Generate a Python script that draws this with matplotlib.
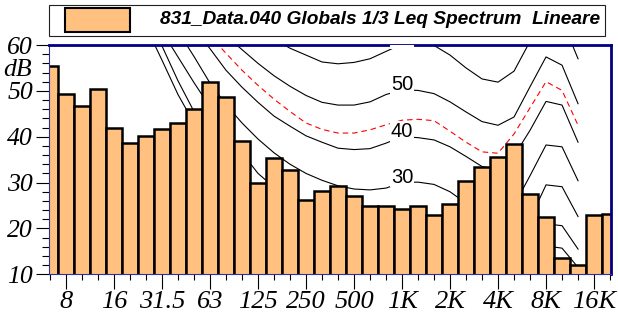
import numpy as np
import matplotlib
matplotlib.use('Agg')
import matplotlib.pyplot as plt
from matplotlib.patches import Rectangle

# 1/3 octave bands and measured Leq (dB)
bands = ['6.3', '8', '10', '12.5', '16', '20', '25', '31.5', '40', '50', '63', '80',
         '100', '125', '160', '200', '250', '315', '400', '500', '630', '800', '1K', '1.25K',
         '1.6K', '2K', '2.5K', '3.15K', '4K', '5K', '6.3K', '8K', '10K', '12.5K', '16K', '20K']
levels = [55.4, 49.3, 46.7, 50.3, 42.0, 38.6, 40.2, 41.6, 42.9, 46.0, 51.9, 48.6,
          39.1, 30.0, 35.3, 32.7, 26.2, 28.2, 29.3, 27.1, 24.9, 24.9, 24.2, 24.8,
          22.9, 25.3, 30.4, 33.5, 35.5, 38.5, 27.5, 22.6, 13.5, 12.0, 22.9, 23.1]
tick_bands = ['8', '16', '31.5', '63', '125', '250', '500', '1K', '2K', '4K', '8K', '16K']

# equal loudness contours, 20 Hz .. 12.5 kHz
contour_bands = bands[5:34]
phon_0 = [72, 64, 56.7, 49.2, 43, 37.5, 32.5, 28, 24, 20.5, 17.5, 14.5, 12, 10, 8, 6.5, 5,
          0, 1, 1, -2, -5, -7, -7, -4, 6, 16.2, 15.7, 11.5]
phon_10 = [75, 67.5, 59.8, 52.2, 45.5, 39.5, 34.5, 30.5, 27, 24, 21.5, 19, 17, 15, 13.5, 12.3, 11.2,
           10, 11, 11.3, 9, 6, 4, 3.5, 6, 13, 21, 20.6, 15.5]
phon_20 = [77, 70, 63, 57.4, 51.8, 46.5, 41.5, 36.5, 32, 29, 26.5, 24.5, 23, 22, 21, 20.5, 20.2,
           20, 21, 21.3, 19, 16, 13.5, 13, 15.5, 22, 29.5, 29.1, 22.6]
phon_30 = [79.5, 74, 68.5, 63, 57.5, 51.7, 47, 43, 39.5, 36.5, 34, 32, 30.5, 29.3, 28.6, 28.4, 28.8,
           30, 30.1, 29.6, 28, 25.5, 23.5, 22.5, 25, 31.5, 38.2, 37.8, 30.4]
phon_40 = [81, 76.5, 72, 67.5, 63.5, 59.2, 54.5, 50.8, 47.5, 44.5, 42.3, 40.2, 38.8, 37.5, 37.2, 37.4, 38.6,
           40, 39.8, 39.3, 37.8, 35.7, 33.5, 32.8, 35.8, 41.4, 47.7, 46.9, 38.8]
phon_50 = [84, 80, 76, 72, 68.5, 65, 62, 59, 56, 53.3, 51, 49, 47.5, 46.9, 46.9, 47.6, 49.2,
           50.2, 50.1, 49.4, 47.6, 45.4, 43.3, 42.5, 44.3, 50.9, 57.4, 55.6, 47.2]
phon_60 = [90, 87, 84, 80.5, 77, 73.5, 70, 67, 64, 61.3, 59.3, 57.8, 56.3, 55.9, 56.2, 57.0, 58.6,
           60.2, 60.3, 59.9, 57.8, 55.0, 52.6, 51.9, 54.3, 60.8, 67.3, 65.5, 57.0]
red_curve = [82, 78, 74, 70, 66, 62, 58.2, 54.5, 51.2, 48.2, 45.5, 43, 41.6, 40.8, 40.8, 41.5, 42.6,
             43.6, 43.8, 43.5, 41.2, 38.8, 36.7, 36.4, 40.6, 46.3, 52.0, 50.1, 42.5]
contour_labels = {'60': phon_60, '50': phon_50, '40': phon_40, '30': phon_30}

bar_color = '#FFC080'
navy = '#000080'

plt.rcParams['font.family'] = 'Liberation Serif'
plt.rcParams['font.style'] = 'italic'

fig = plt.figure(figsize=(6.18, 3.22), dpi=100)
ax = fig.add_axes([49 / 618, 1 - 274.3 / 322, 562 / 618, 229.3 / 322])

x = np.arange(len(bands))
cx = [bands.index(b) for b in contour_bands]
for curve in [phon_0, phon_10, phon_20, phon_30, phon_40, phon_50, phon_60]:
    ax.plot(cx, curve, color='black', lw=0.8, zorder=1)
ax.plot(cx, red_curve, color='red', lw=0.8, dashes=(5, 3.5), zorder=1)

ax.bar(x, levels, width=1.0, color=bar_color, edgecolor='black', linewidth=1.8, zorder=2)

i1k = bands.index('1K')
for txt, curve in contour_labels.items():
    ax.text(i1k, curve[cx.index(i1k)], txt, ha='center', va='baseline', fontsize=14.5,
            family='Liberation Sans', style='normal', zorder=3, clip_on=True,
            bbox=dict(facecolor='white', edgecolor='none', pad=0.6))

ax.set_xlim(-0.06, 35.06)
ax.set_ylim(10, 60)

ax.set_xticks(x, minor=True)
ax.set_xticks([bands.index(b) for b in tick_bands], tick_bands)
ax.set_yticks(range(10, 61, 10))
ax.set_yticks(np.arange(10, 61, 2), minor=True)
ax.tick_params(axis='x', which='major', length=10.8, width=0.8, pad=1.5, labelsize=19)
ax.tick_params(axis='x', which='minor', length=4.3, width=0.8)
ax.tick_params(axis='y', which='major', length=9.5, width=0.8, pad=2, labelsize=18.5)
ax.tick_params(axis='y', which='minor', length=5, width=0.8)

for side in ['top', 'right']:
    ax.spines[side].set_color(navy)
    ax.spines[side].set_linewidth(2)
for side in ['left', 'bottom']:
    ax.spines[side].set_color('#3030a0')
    ax.spines[side].set_linewidth(0.8)

ax.text(-0.03, 54.5, 'dB', transform=ax.get_yaxis_transform(), ha='right', va='center',
        fontsize=18.5)

# legend box
fig.add_artist(Rectangle((49 / 618, 1 - 35.5 / 322), 556 / 618, 30.8 / 322,
                         transform=fig.transFigure, facecolor='white', edgecolor='#202020', lw=0.8))
fig.add_artist(Rectangle((65 / 618, 1 - 31.5 / 322), 65 / 618, 23.5 / 322,
                         transform=fig.transFigure, facecolor=bar_color, edgecolor='black', lw=1.5))
fig.text(160 / 618, 1 - 20 / 322, '831_Data.040 Globals 1/3 Leq Spectrum  Lineare',
         ha='left', va='center', fontsize=13.8, family='Liberation Sans',
         style='italic', weight='bold')

fig.savefig('out.png', dpi=100)
